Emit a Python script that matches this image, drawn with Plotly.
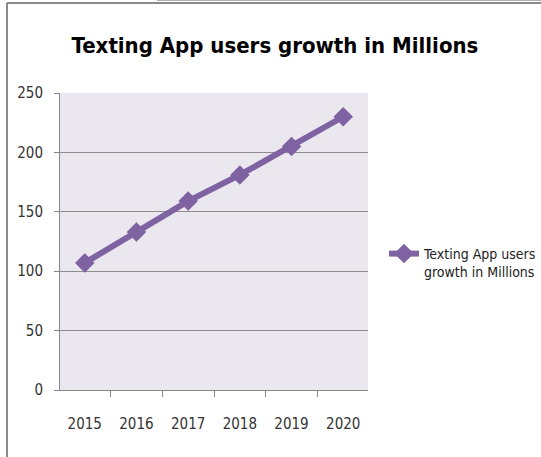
import plotly.graph_objects as go

years = ["2015", "2016", "2017", "2018", "2019", "2020"]
users = [107, 133, 159, 181, 205, 230]
series_name = "Texting App users<br>growth in Millions"
title_text = "Texting App users growth in Millions"
y_ticks = [0, 50, 100, 150, 200, 250]

W, H = 541, 457
L, R, T, B = 60, 173, 93, 67
pw, ph = W - L - R, H - T - B


def px_x(x):
    return (x - L) / pw


def px_y(y):
    return (H - B - y) / ph


font_face = "DejaVu Sans Condensed, Liberation Sans Narrow, sans-serif"
purple = "#7F62A2"

fig = go.Figure()
fig.add_trace(go.Scatter(
    x=years, y=users, name=series_name, mode="lines+markers",
    line=dict(color=purple, width=6),
    marker=dict(symbol="diamond", size=15, color=purple),
))

# outer frame lines
frame = [
    dict(x0=7, y0=3, x1=W, y1=3, color="#8a8a8a", width=2),
    dict(x0=157, y0=0.5, x1=W, y1=0.5, color="#b0b0b0", width=1),
    dict(x0=7, y0=3, x1=7, y1=H, color="#8a8a8a", width=2),
]
for f in frame:
    fig.add_shape(type="line", xref="paper", yref="paper",
                  x0=px_x(f["x0"]), y0=px_y(f["y0"]),
                  x1=px_x(f["x1"]), y1=px_y(f["y1"]),
                  line=dict(color=f["color"], width=f["width"]))

fig.update_layout(
    width=W, height=H,
    margin=dict(l=L, r=R, t=T, b=B, autoexpand=False),
    paper_bgcolor="white",
    plot_bgcolor="#EAE7EF",
    title=dict(text=title_text, x=275 / W, xanchor="center",
               y=1 - 45 / H, yanchor="middle",
               font=dict(family=font_face, size=22, color="black", weight="bold")),
    showlegend=True,
    legend=dict(xref="container", yref="container",
                x=384 / W, xanchor="left", y=1 - 238 / H, yanchor="top",
                valign="top", bgcolor="rgba(0,0,0,0)",
                font=dict(family=font_face, size=14, color="#222"),
                itemwidth=30),
    font=dict(family=font_face, size=14, color="#333"),
)
fig.update_xaxes(
    type="category", tickson="boundaries", ticks="outside", ticklen=6,
    tickcolor="#888", showline=True, linecolor="#888", linewidth=1,
    showgrid=False, tickfont=dict(size=15, color="#333"), ticklabelstandoff=20,
)
fig.update_yaxes(
    range=[0, 250], tickvals=y_ticks, ticks="outside", ticklen=5,
    tickcolor="#888", showline=True, linecolor="#888", linewidth=1,
    showgrid=True, gridcolor="#8c8c8c", gridwidth=1, zeroline=False,
    tickfont=dict(size=15, color="#333"), ticklabelstandoff=8,
)

fig.write_html("out.html")
